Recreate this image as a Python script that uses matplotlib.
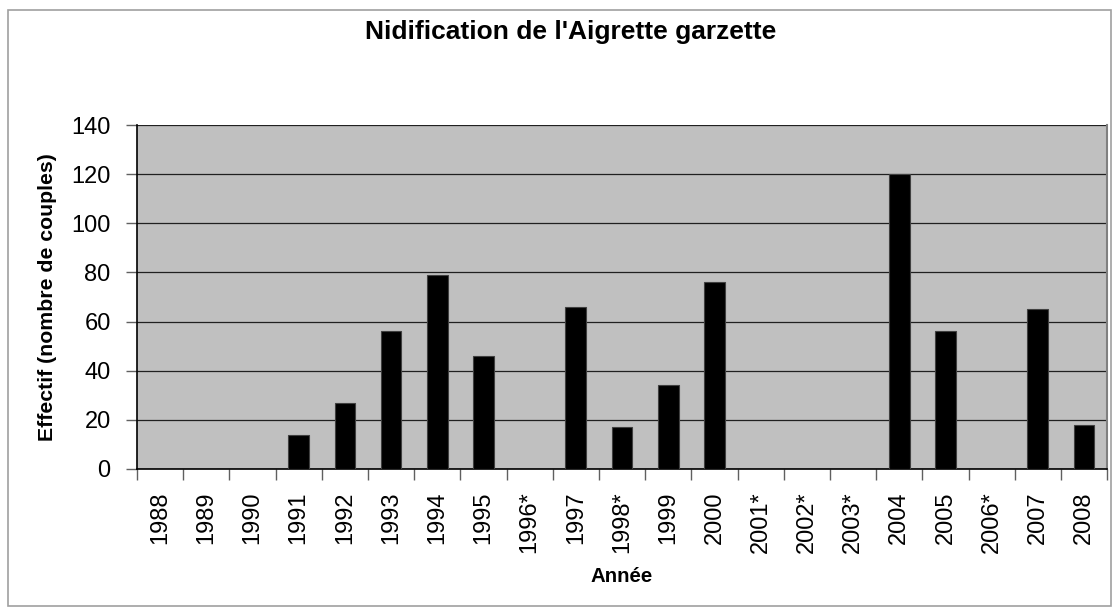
import matplotlib.pyplot as plt
from matplotlib.patches import Rectangle

plt.rcParams['font.family'] = ['Liberation Sans', 'DejaVu Sans']

years = ['1988', '1989', '1990', '1991', '1992', '1993', '1994', '1995', '1996*', '1997',
         '1998*', '1999', '2000', '2001*', '2002*', '2003*', '2004', '2005', '2006*', '2007', '2008']
couples = [0, 0, 0, 14, 27, 56, 79, 46, 0, 66, 17, 34, 76, 0, 0, 0, 120, 56, 0, 65, 18]
yticks = [0, 20, 40, 60, 80, 100, 120, 140]

fig = plt.figure(figsize=(11.15, 6.15), dpi=100)
# outer chart frame
fig.patches.append(Rectangle((0.007, 0.014), 0.989, 0.97, transform=fig.transFigure,
                             fill=False, edgecolor='#a0a0a0', linewidth=1.2))

ax = fig.add_axes([0.1229, 0.2374, 0.870, 0.5593])
ax.set_facecolor('#c0c0c0')

x = range(len(years))
ax.bar(x, couples, width=0.45, color='black', edgecolor='#404040', linewidth=0.8, zorder=3)

ax.set_xlim(-0.5, len(years) - 0.5)
ax.set_ylim(0, 140)
ax.set_yticks(yticks)
ax.yaxis.grid(True, color='#202020', linewidth=0.9, zorder=1)
ax.set_axisbelow(True)

# category ticks sit between the bars
ax.set_xticks([i - 0.5 for i in range(len(years) + 1)], minor=False)
ax.set_xticklabels([])
ax.set_xticks(list(x), minor=True)
ax.set_xticklabels(years, minor=True, rotation=90, fontsize=17, va='top')
ax.tick_params(axis='x', which='major', direction='out', length=8, width=1, color='#606060')
ax.tick_params(axis='x', which='minor', length=0, pad=16)
ax.tick_params(axis='y', direction='out', length=8, width=1, color='#606060', labelsize=17, pad=11)

for s in ['left', 'bottom']:
    ax.spines[s].set_color('black')
    ax.spines[s].set_linewidth(1.2)
ax.spines['top'].set_visible(False)
ax.spines['right'].set_color('#808080')
ax.spines['right'].set_linewidth(1.5)

ax.set_ylabel('Effectif (nombre de couples)', fontsize=15.3, fontweight='bold', labelpad=10)
ax.set_xlabel('Année', fontsize=14.7, fontweight='bold', labelpad=10)
fig.text(0.512, 0.948, "Nidification de l'Aigrette garzette", ha='center', va='center',
         fontsize=19, fontweight='bold')

fig.savefig('out.png', dpi=100)
